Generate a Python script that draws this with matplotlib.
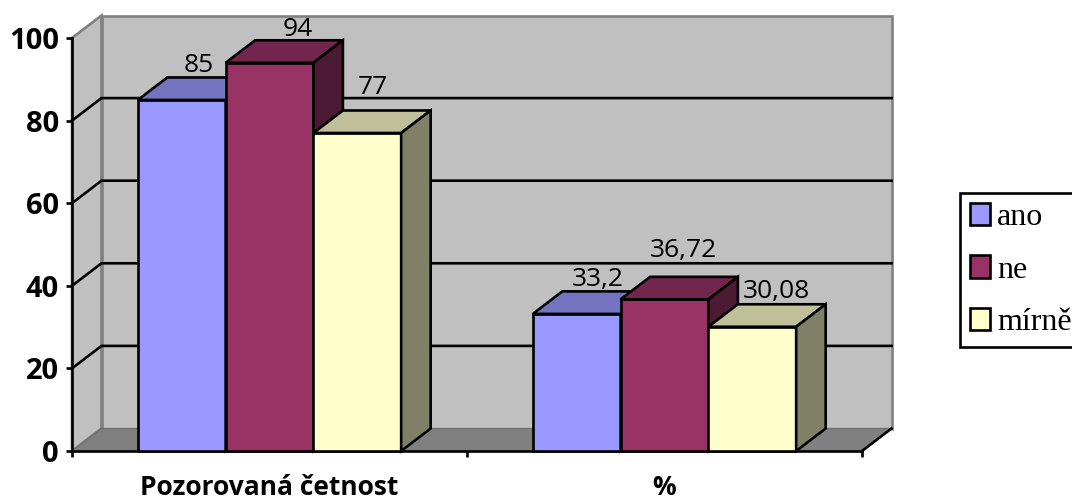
import matplotlib
matplotlib.use("Agg")
import matplotlib.pyplot as plt
from matplotlib.patches import Polygon

categories = ["Pozorovaná četnost", "%"]
series_names = ["ano", "ne", "mírně"]
ano = [85, 33.2]
ne = [94, 36.72]
mirne = [77, 30.08]
y_ticks = [0, 20, 40, 60, 80, 100]

front_colors = ["#9999FF", "#993366", "#FFFFCC"]
top_colors = ["#7373BF", "#73264D", "#BFBF99"]
side_colors = ["#4D4D80", "#4D1A33", "#808066"]
# (dx, dy) in pixels of each value label relative to the bar's front top centre
label_offsets = [[(17, 36), (21, 36)], [(28, 35), (19, 51)], [(16, 47), (24, 37)]]

W, H = 1072, 499
LEFT, RIGHT, BASE, TOP = 72, 862, 451, 38
BAR_W = 1 / 4.5
DX = 29.5 / ((RIGHT - LEFT) / 2)       # depth of the 3D box, category units
DY = 22.5 / ((BASE - TOP) / 100)       # depth of the 3D box, value units
STROKE = 1.9
UI = ["Open Sans", "DejaVu Sans"]

fig = plt.figure(figsize=(W / 100, H / 100), dpi=100, facecolor="white")
ax = fig.add_axes([LEFT / W, 1 - BASE / H, (RIGHT - LEFT) / W, (BASE - TOP) / H])
ax.set_xlim(0, 2)
ax.set_ylim(0, 100)
ax.patch.set_visible(False)
for name in ("top", "right"):
    ax.spines[name].set_visible(False)
for name in ("left", "bottom"):
    ax.spines[name].set_linewidth(STROKE)
    ax.spines[name].set_zorder(2.5)


def poly(points, face, edge, zorder, lw=STROKE):
    ax.add_patch(Polygon(points, closed=True, facecolor=face, edgecolor=edge,
                         linewidth=lw, zorder=zorder, clip_on=False, joinstyle="miter"))


# walls and floor
poly([(DX, DY), (2 + DX, DY), (2 + DX, 100 + DY), (DX, 100 + DY)], "#C0C0C0", "#808080", 1)
poly([(0, 0), (DX, DY), (DX, 100 + DY), (0, 100)], "#C0C0C0", "#808080", 1)
poly([(0, 0), (2, 0), (2 + DX, DY), (DX, DY)], "#808080", "#707070", 1.1, lw=1)
ax.plot([2, 2 + DX], [0, DY], color="black", lw=STROKE, zorder=1.2, clip_on=False)

# gridlines run across the side wall and the back wall
for t in y_ticks[1:-1]:
    ax.plot([0, DX, 2 + DX], [t, t + DY, t + DY], color="black", lw=STROKE,
            zorder=1.5, clip_on=False, solid_joinstyle="miter")

# bars: front face through ax.bar, top and side faces as polygons
handles = []
for i, values in enumerate([ano, ne, mirne]):
    z = 3 + i
    xs = [g + 0.5 + (i - 1) * BAR_W for g in range(len(categories))]
    bars = ax.bar(xs, values, width=BAR_W, color=front_colors[i], edgecolor="black",
                  linewidth=STROKE, zorder=z, label=series_names[i], clip_on=False)
    handles.append(bars)
    for x, v in zip(xs, values):
        l, r = x - BAR_W / 2, x + BAR_W / 2
        poly([(l, v), (r, v), (r + DX, v + DY), (l + DX, v + DY)], top_colors[i], "black", z)
        poly([(r, 0), (r + DX, DY), (r + DX, v + DY), (r, v)], side_colors[i], "black", z)

# value labels
for i, values in enumerate([ano, ne, mirne]):
    for g, v in enumerate(values):
        x = g + 0.5 + (i - 1) * BAR_W
        ox, oy = label_offsets[i][g]
        ax.annotate(f"{v:g}".replace(".", ","), (x, v), xytext=(ox * 0.72, (oy - 2) * 0.72),
                    textcoords="offset points", ha="center", va="center",
                    fontsize=19, family=UI, color="black", zorder=10,
                    annotation_clip=False)

ax.set_yticks(y_ticks)
ax.set_yticklabels([str(t) for t in y_ticks], fontsize=21, fontweight="bold", family=UI)
ax.set_xticks([0, 1, 2])
ax.set_xticklabels([])
ax.tick_params(axis="both", length=4.5, width=STROKE, color="black", pad=5)
for g, name in enumerate(categories):
    ax.text(g + 0.5, -8.8, name, ha="center", va="center", fontsize=19,
            fontweight="bold", family=UI, clip_on=False)

leg = ax.legend(handles=handles, loc="upper left",
                bbox_to_anchor=(960 / W, 1 - 193 / H), bbox_transform=fig.transFigure,
                prop={"family": "Liberation Serif", "size": 23}, fancybox=False,
                framealpha=1, edgecolor="black", handlelength=0.63, handleheight=0.7,
                handletextpad=0.22, labelspacing=0.72, borderpad=0.31, borderaxespad=0)
leg.get_frame().set_linewidth(STROKE)
leg.set_zorder(12)

fig.savefig("out.png", dpi=100)
